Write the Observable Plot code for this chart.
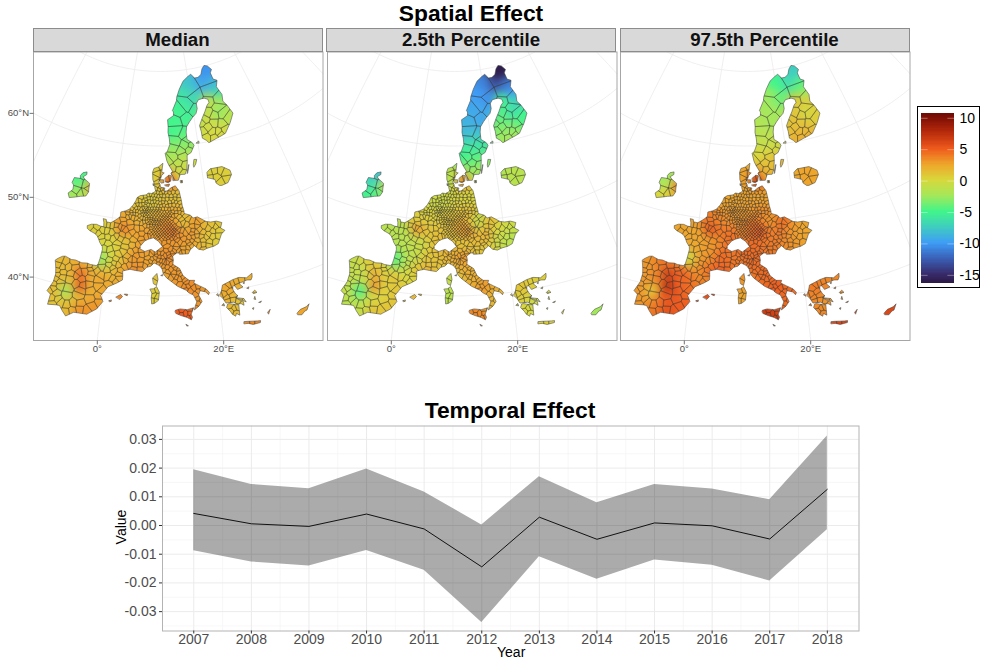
<!DOCTYPE html>
<html>
<head>
<meta charset="utf-8">
<script src="https://cdn.jsdelivr.net/npm/d3@7"></script>
<script src="https://cdn.jsdelivr.net/npm/@observablehq/plot@0.6"></script>
<style>
html,body{margin:0;padding:0;background:#fff;font-family:"Liberation Sans",Arial,sans-serif;}
#root{position:relative;width:982px;height:664px;overflow:hidden;}
.abs{position:absolute;}
.title{font-weight:bold;font-size:22.8px;line-height:26px;color:#000;text-align:center;white-space:nowrap;}
.strip{background:#d9d9d9;border:1px solid #8c8c8c;box-sizing:border-box;font-weight:bold;font-size:18.7px;color:#111;text-align:center;line-height:22px;height:24px;top:28px;width:290px;}
.axt{font-size:14px;color:#000;white-space:nowrap;}
svg{background:transparent !important;}
</style>
</head>
<body>
<div id="root"></div>
<script>
// ---------- temporal effect ----------
const years  = [2007,2008,2009,2010,2011,2012,2013,2014,2015,2016,2017,2018];
const tMid   = [0.0042,0.0006,-0.0003,0.0040,-0.0012,-0.0144,0.0029,-0.0048,0.0009,-0.0001,-0.0047,0.0126];
const tUpper = [0.0194,0.0143,0.0128,0.0197,0.0117,0.0002,0.0170,0.0079,0.0143,0.0127,0.0090,0.0312];
const tLower = [-0.0088,-0.0127,-0.0141,-0.0087,-0.0156,-0.0338,-0.0109,-0.0187,-0.0120,-0.0138,-0.0193,-0.0015];
const yTicks = [-0.03,-0.02,-0.01,0,0.01,0.02,0.03];
const yMinor = [-0.035,-0.025,-0.015,-0.005,0.005,0.015,0.025];
const xMinor = [2007.5,2008.5,2009.5,2010.5,2011.5,2012.5,2013.5,2014.5,2015.5,2016.5,2017.5];

// ---------- colour legend ----------
const colorStops  = [-16.4,-15,-12.5,-10,-7.5,-5,-2.5,0,2.5,5,7.5,10,10.6];
const colorValues = ["#2c1a45","#382a6a","#3a5fb5","#3e9cf6","#3fcdc0","#41f58a","#a3e85a","#d8d83c","#eeA52a","#ef5a1c","#b92c0c","#7c0e04","#700a03"];
const legendTicks = [10,5,0,-5,-10,-15];

// ---------- map graticule ----------
const meridians = [-40,-20,0,20,40,60];
const parallels = [30,40,50,60,70,80];
const latLabels = [[60,"60°N"],[50,"50°N"],[40,"40°N"]];
const lonLabels = [[0,"0°"],[20,"20°E"]];
const panelTitles = ["Median","2.5th Percentile","97.5th Percentile"];

// ---------- land outlines (lon, lat) ----------
const mainlandRing = [[-9.3,43.0],[-8.9,43.3],[-8.2,43.7],[-7.7,43.8],[-6.5,43.55],[-5.7,43.6],[-4.5,43.4],[-3.5,43.5],[-2.9,43.4],[-1.8,43.38],[-1.5,43.6],[-1.3,44.4],[-1.2,45.0],[-1.1,45.6],[-1.2,46.0],[-1.8,46.5],[-2.1,46.9],[-2.5,47.3],[-3.0,47.55],[-4.1,47.8],[-4.7,48.05],[-4.8,48.4],[-4.0,48.7],[-3.0,48.8],[-2.1,48.65],[-1.5,48.65],[-1.6,49.2],[-1.85,49.7],[-1.2,49.65],[-1.1,49.35],[-0.2,49.3],[0.2,49.5],[1.0,49.9],[1.6,50.3],[1.6,50.9],[2.5,51.1],[3.4,51.4],[3.6,51.6],[4.1,52.0],[4.6,52.6],[4.8,53.0],[5.5,53.3],[6.9,53.45],[7.2,53.7],[8.0,53.65],[8.6,53.85],[8.9,54.0],[8.7,54.4],[8.6,54.9],[8.2,55.5],[8.1,56.5],[8.4,57.0],[9.5,57.2],[10.6,57.7],[10.4,56.9],[10.3,56.5],[10.9,56.4],[10.3,56.1],[10.0,55.6],[9.6,55.2],[9.9,54.85],[10.0,54.5],[11.0,54.4],[10.8,54.0],[11.5,54.0],[12.4,54.4],[13.4,54.65],[14.2,53.95],[14.4,53.3],[14.6,52.6],[14.7,52.0],[15.0,51.2],[15.0,50.9],[16.3,50.6],[16.8,50.2],[17.7,50.3],[18.6,49.9],[19.4,49.55],[20.3,49.4],[21.5,49.4],[22.55,49.1],[22.1,48.4],[22.9,48.0],[22.1,47.6],[21.2,46.4],[20.3,46.15],[19.0,46.0],[18.2,45.8],[17.3,46.0],[16.6,46.5],[15.7,46.0],[15.3,45.5],[14.6,45.5],[13.6,45.5],[13.7,45.65],[13.1,45.7],[12.3,45.3],[12.4,44.8],[12.3,44.2],[13.5,43.6],[14.1,42.6],[15.1,41.95],[16.1,41.9],[15.9,41.55],[16.9,41.1],[18.0,40.6],[18.5,40.1],[18.3,39.8],[17.9,40.2],[16.9,40.45],[16.6,39.9],[17.1,39.0],[16.5,38.4],[15.7,37.95],[15.9,38.5],[16.2,39.0],[15.7,39.95],[14.9,40.3],[14.5,40.65],[14.1,40.8],[13.0,41.25],[12.2,41.75],[11.1,42.4],[10.5,42.95],[10.3,43.6],[9.8,44.05],[8.8,44.4],[8.2,43.95],[7.5,43.8],[6.7,43.2],[5.4,43.3],[4.4,43.4],[3.1,43.1],[3.2,42.45],[3.2,41.9],[2.2,41.4],[0.8,40.8],[-0.3,39.5],[0.2,38.75],[-0.7,37.65],[-1.9,36.95],[-2.2,36.75],[-4.4,36.7],[-5.6,36.0],[-6.3,36.6],[-6.9,37.2],[-7.4,37.2],[-8.9,37.0],[-8.8,38.4],[-9.5,38.75],[-8.8,40.1],[-8.7,41.2],[-8.9,41.9]];
const swissHole = [[6.1,46.2],[7.0,45.9],[8.2,46.2],[9.0,45.85],[10.4,46.6],[9.6,47.3],[8.6,47.75],[7.6,47.55],[6.9,47.3],[6.1,46.6]];
const nordicRing = [[12.9,55.4],[12.9,55.9],[12.5,56.3],[12.9,56.6],[12.0,57.5],[11.6,58.0],[11.2,59.0],[11.8,59.3],[12.5,60.2],[12.4,61.0],[12.1,61.8],[12.2,62.5],[12.1,63.5],[13.9,64.0],[14.0,64.5],[13.7,64.7],[15.2,66.0],[15.4,66.5],[16.5,67.5],[18.1,68.5],[20.1,69.05],[21.3,69.3],[22.4,68.7],[23.7,68.7],[25.0,69.0],[25.9,69.7],[27.0,70.08],[28.2,69.9],[29.3,69.3],[28.5,68.9],[28.8,68.0],[30.0,67.7],[29.1,66.9],[30.1,65.7],[29.7,64.8],[30.5,64.2],[31.5,62.9],[29.9,61.8],[27.8,60.6],[26.5,60.4],[25.0,60.2],[23.5,59.95],[22.9,59.85],[22.4,60.2],[21.4,60.6],[21.4,61.5],[21.2,62.3],[22.3,63.2],[23.5,64.0],[24.6,64.8],[25.4,65.1],[25.3,65.55],[24.2,65.8],[23.5,65.8],[22.3,65.75],[21.4,65.3],[21.4,64.6],[20.8,64.0],[19.5,63.5],[18.5,63.0],[17.5,62.4],[17.2,61.7],[17.2,60.7],[18.5,60.2],[18.9,59.8],[17.9,58.9],[16.8,58.6],[16.7,57.8],[16.4,56.7],[15.9,56.1],[14.7,56.1],[14.2,55.4]];
const irelandRing = [[-6.2,53.9],[-6.1,53.2],[-6.0,52.8],[-6.4,52.2],[-7.5,52.0],[-8.5,51.75],[-9.8,51.45],[-10.3,52.0],[-9.5,52.6],[-9.6,53.2],[-10.1,53.5],[-9.9,54.2],[-8.5,54.3],[-8.7,54.65],[-8.3,55.1],[-7.4,55.35],[-7.3,55.0],[-8.0,54.6],[-7.4,54.3],[-7.0,54.2]];
const lithuaniaRing = [[21.05,55.3],[21.1,56.0],[22.0,56.4],[24.9,56.4],[26.6,55.7],[26.7,55.1],[25.7,54.3],[25.5,54.15],[24.0,53.95],[23.5,54.0],[22.8,54.4],[22.7,54.9],[21.4,55.2]];
const greeceRing = [[20.2,39.6],[20.7,39.05],[21.1,38.4],[22.4,38.35],[23.0,38.0],[23.6,38.0],[24.05,37.7],[24.05,38.2],[23.2,38.65],[22.9,38.9],[23.3,39.1],[22.95,39.4],[22.6,40.0],[22.65,40.5],[23.0,40.5],[23.4,39.95],[23.9,40.05],[24.4,40.15],[23.8,40.7],[24.6,40.85],[25.3,40.95],[26.0,40.85],[26.3,41.2],[26.4,41.7],[25.3,41.25],[24.0,41.5],[22.8,41.35],[21.9,41.1],[20.9,40.85],[20.6,40.1]];
const peloponneseRing = [[21.7,38.25],[22.9,37.95],[23.2,37.9],[23.15,37.3],[23.1,36.5],[22.6,36.8],[22.4,36.45],[21.9,36.8],[21.65,37.2],[21.1,37.8],[21.35,38.2]];
const islandRings = [
 [[23.55,35.3],[23.6,35.55],[24.2,35.5],[25.0,35.4],[25.8,35.3],[26.3,35.25],[26.2,35.0],[25.0,34.95],[24.3,35.2]],
 [[32.3,34.95],[32.4,35.05],[33.0,35.35],[34.0,35.45],[34.6,35.7],[34.0,35.0],[33.6,34.95],[33.0,34.6],[32.4,34.75]],
 [[12.45,37.9],[12.5,38.05],[13.3,38.2],[14.5,38.05],[15.6,38.25],[15.1,37.4],[15.3,37.0],[15.1,36.65],[14.4,37.0],[13.4,37.3],[12.6,37.6]],
 [[8.2,40.9],[8.8,40.95],[9.3,41.25],[9.8,40.5],[9.65,39.4],[9.0,39.0],[8.5,38.9],[8.4,39.7],[8.5,40.3]],
 [[8.6,42.4],[9.35,43.0],[9.55,42.2],[9.3,41.4],[8.8,41.6]],
 [[2.35,39.55],[3.1,39.95],[3.45,39.7],[3.05,39.3]],
 [[3.8,40.05],[4.3,40.05],[4.25,39.85],[3.85,39.95]],
 [[1.2,38.95],[1.6,39.1],[1.6,38.9],[1.35,38.85]],
 [[14.2,36.08],[14.55,35.88],[14.35,35.85]],
 [[18.1,57.25],[18.4,57.95],[19.1,57.9],[18.7,57.3],[18.2,56.95]],
 [[16.4,56.2],[16.9,57.3],[17.05,57.35],[16.55,56.3]],
 [[11.1,55.7],[12.0,56.1],[12.6,56.0],[12.4,55.3],[11.8,55.1],[11.2,55.2]],
 [[9.8,55.5],[10.7,55.5],[10.8,55.1],[10.2,55.05]],
 [[11.0,54.8],[12.1,54.9],[11.9,54.6],[11.3,54.65]],
 [[14.7,55.3],[15.15,55.3],[15.1,55.0],[14.75,55.0]],
 [[19.6,60.1],[20.3,60.3],[20.3,60.05]],
 [[19.7,39.7],[19.9,39.8],[20.05,39.45]],
 [[20.4,38.2],[20.7,38.4],[20.8,38.1]],
 [[22.9,38.9],[24.2,38.6],[24.5,38.1],[23.7,38.5]],
 [[25.85,39.2],[26.3,39.4],[26.6,39.05],[26.0,39.0]],
 [[25.9,38.3],[26.1,38.6],[26.15,38.2]],
 [[26.6,37.7],[27.05,37.8],[26.9,37.65]],
 [[27.7,36.15],[28.2,36.45],[27.8,35.9]],
 [[25.35,37.1],[25.6,37.15],[25.5,36.95]],
 [[25.05,39.9],[25.4,40.0],[25.3,39.8]],
 [[24.55,40.7],[24.8,40.8],[24.7,40.55]],
 [[10.1,42.75],[10.4,42.85],[10.4,42.72]],
 [[8.3,54.95],[8.45,54.95],[8.4,54.7]]
];

// ---------- region seed points (lon, lat) ----------
const germanySites = [[9.4,54.7],[9.9,54.5],[9.0,54.3],[9.6,54.2],[10.3,54.3],[10.9,54.2],[12.2,54.2],[13.3,54.3],[8.7,53.8],[9.4,53.8],[10.0,53.7],[10.6,53.9],[11.3,53.8],[12.0,53.8],[12.9,53.8],[13.7,53.7],[7.3,53.4],[7.8,53.5],[8.3,53.4],[8.9,53.4],[9.5,53.3],[10.1,53.4],[10.7,53.3],[11.5,53.4],[12.3,53.3],[13.3,53.4],[14.0,53.3],[7.4,53.0],[8.0,53.0],[8.6,53.0],[9.2,52.9],[9.9,52.9],[10.6,52.9],[11.4,52.9],[12.3,52.9],[13.2,52.9],[14.0,52.8],[6.9,52.5],[7.5,52.6],[8.1,52.5],[8.7,52.6],[9.3,52.5],[9.9,52.4],[10.5,52.5],[11.2,52.4],[12.0,52.5],[12.8,52.6],[13.4,52.5],[14.2,52.4],[6.8,52.0],[7.3,52.1],[7.8,52.0],[8.4,52.1],[8.9,52.1],[9.5,52.0],[10.1,52.0],[10.7,52.1],[11.4,52.0],[12.1,52.1],[12.9,52.1],[13.7,52.0],[14.4,51.9],[6.3,51.6],[6.8,51.7],[7.2,51.5],[7.6,51.6],[8.1,51.6],[8.7,51.6],[9.3,51.6],[9.9,51.6],[10.5,51.6],[11.2,51.6],[11.9,51.5],[12.5,51.6],[13.2,51.5],[14.0,51.5],[14.7,51.4],[6.1,51.2],[6.5,51.2],[6.9,51.2],[7.3,51.2],[7.8,51.2],[8.4,51.2],[9.0,51.2],[9.6,51.2],[10.2,51.2],[10.8,51.1],[11.4,51.2],[12.0,51.1],[12.6,51.2],[13.3,51.1],[14.1,51.1],[14.7,51.0],[6.2,50.8],[6.7,50.8],[7.2,50.8],[7.8,50.8],[8.4,50.8],[9.0,50.8],[9.6,50.7],[10.2,50.7],[10.8,50.7],[11.4,50.7],[12.0,50.7],[12.6,50.7],[13.3,50.8],[6.6,50.3],[7.1,50.3],[7.6,50.3],[8.1,50.3],[8.6,50.2],[9.1,50.2],[9.7,50.2],[10.3,50.3],[10.9,50.3],[11.5,50.3],[12.2,50.3],[6.6,49.8],[7.2,49.9],[7.8,49.8],[8.4,49.9],[8.9,49.9],[9.4,49.8],[9.9,49.8],[10.4,49.9],[11.0,49.8],[11.6,49.9],[12.2,49.8],[6.9,49.4],[7.5,49.4],[8.1,49.4],[8.6,49.4],[9.2,49.4],[9.8,49.3],[10.4,49.4],[11.0,49.4],[11.6,49.3],[12.2,49.4],[12.8,49.3],[8.2,49.0],[8.7,48.9],[9.2,48.9],[9.8,48.9],[10.4,48.9],[11.0,48.9],[11.6,48.9],[12.2,48.9],[12.8,48.8],[13.4,48.9],[7.9,48.5],[8.5,48.5],[9.1,48.5],[9.7,48.5],[10.3,48.5],[10.9,48.4],[11.5,48.5],[12.1,48.5],[12.7,48.5],[13.3,48.5],[7.8,48.0],[8.4,48.0],[9.0,48.0],[9.6,48.1],[10.2,48.0],[10.8,48.1],[11.5,48.1],[12.2,48.0],[12.8,48.1],[9.5,47.7],[10.2,47.6],[10.9,47.6],[11.5,47.7],[12.2,47.7],[13.0,47.7]];
const germanyExtra = [[6.55,51.45],[7.0,51.45],[7.45,51.4],[7.95,51.4],[8.55,51.4],[9.15,51.4],[9.75,51.4],[6.4,51.0],[6.85,51.0],[7.5,51.0],[8.1,51.0],[8.7,51.0],[9.3,51.0],[9.9,50.95],[10.5,50.9],[11.1,50.9],[11.7,50.95],[12.3,50.95],[7.0,50.55],[7.5,50.55],[8.1,50.55],[8.7,50.5],[9.3,50.45],[10.0,50.5],[10.6,50.5],[11.2,50.5],[11.9,50.5],[7.5,50.05],[8.1,50.05],[8.65,50.05],[9.15,50.0],[9.7,50.0],[10.2,50.05],[10.7,50.1],[11.3,50.1],[11.9,50.1],[7.5,49.65],[8.1,49.65],[8.65,49.65],[9.15,49.6],[9.7,49.6],[10.15,49.65],[10.7,49.6],[11.3,49.6],[11.9,49.6],[12.5,49.6],[8.45,49.15],[8.95,49.15],[9.5,49.15],[10.1,49.15],[10.7,49.15],[11.3,49.15],[11.9,49.15],[12.5,49.1],[13.1,49.1],[8.2,48.75],[8.95,48.7],[9.45,48.7],[10.05,48.7],[10.65,48.7],[11.25,48.7],[11.85,48.7],[12.45,48.7],[13.05,48.7],[13.6,48.7],[8.15,48.25],[8.75,48.25],[9.35,48.25],[9.95,48.25],[10.55,48.25],[11.2,48.25],[11.8,48.25],[12.4,48.25],[13.0,48.25],[9.3,47.85],[9.9,47.85],[10.5,47.8],[11.15,47.85],[11.85,47.85],[12.5,47.85]];
const beneluxSites = [[3.9,51.4],[4.4,51.9],[4.8,51.6],[5.3,51.6],[5.9,51.5],[5.0,52.1],[5.6,52.1],[6.3,52.2],[6.8,52.35],[4.8,52.5],[5.5,52.6],[6.3,52.6],[5.8,53.1],[6.6,53.2],[6.7,52.85],[3.2,51.2],[3.8,51.1],[4.4,51.2],[5.0,51.2],[5.5,51.1],[3.2,50.8],[3.9,50.8],[4.4,50.85],[5.0,50.8],[5.6,50.6],[6.1,50.4],[3.6,50.5],[4.3,50.4],[5.0,50.3],[5.5,50.0],[5.4,49.8],[6.1,49.7]];
const franceSites = [[3.2,50.4],[2.3,50.5],[2.3,49.95],[3.6,49.6],[2.5,49.4],[1.1,49.6],[1.0,49.1],[0.2,49.1],[-0.6,49.1],[-1.3,49.1],[-2.8,48.4],[-4.2,48.3],[-3.2,47.9],[-1.7,48.1],[-2.3,47.7],[-0.7,48.1],[0.2,48.0],[1.2,48.5],[1.9,48.9],[2.3,48.85],[2.9,48.6],[3.8,49.0],[4.3,48.3],[5.4,48.9],[6.1,48.95],[6.2,48.2],[7.4,48.7],[7.3,47.9],[6.2,47.6],[5.2,47.9],[3.6,47.9],[4.7,47.4],[6.4,47.1],[5.7,46.7],[4.6,46.6],[3.2,47.1],[2.1,47.4],[2.4,47.9],[1.3,47.6],[0.7,47.3],[-0.4,47.4],[-1.6,47.3],[-1.3,46.7],[-0.3,46.5],[-0.7,45.8],[0.2,45.8],[1.5,46.2],[1.6,46.7],[3.1,46.3],[2.9,45.7],[2.0,45.3],[0.7,45.1],[-0.6,44.8],[-0.9,44.0],[0.5,44.4],[1.6,44.6],[2.7,44.3],[3.5,44.5],[3.8,45.1],[4.4,45.7],[5.2,46.0],[5.5,45.3],[6.4,45.5],[6.3,46.0],[5.0,44.7],[4.4,44.7],[6.2,44.7],[6.3,44.1],[7.2,44.0],[6.3,43.5],[5.1,43.5],[5.2,44.0],[4.2,44.0],[3.4,43.7],[2.7,43.1],[2.2,43.9],[1.4,44.0],[1.2,43.4],[1.6,43.0],[0.6,43.7],[0.2,43.1],[-0.7,43.3],[2.5,42.6]];
const iberiaSites = [[-8.4,43.2],[-7.5,43.1],[-7.9,42.3],[-8.5,42.4],[-5.9,43.3],[-4.0,43.2],[-2.8,43.2],[-2.2,43.1],[-2.7,42.8],[-1.6,42.7],[-2.5,42.3],[-0.7,42.2],[-1.1,41.5],[-1.0,40.7],[0.5,42.2],[1.4,41.9],[2.6,42.1],[2.0,41.6],[1.0,41.1],[-0.2,40.2],[-0.6,39.4],[-0.5,38.6],[-1.5,38.0],[-2.3,37.3],[-3.5,37.3],[-3.6,38.0],[-4.7,37.9],[-4.7,36.9],[-5.7,36.6],[-5.8,37.5],[-6.8,37.6],[-6.1,38.7],[-6.1,39.7],[-4.1,39.0],[-2.0,38.8],[-2.2,40.0],[-2.6,40.7],[-3.7,40.5],[-3.9,39.8],[-4.7,40.6],[-4.1,41.2],[-2.6,41.6],[-3.7,42.3],[-4.7,42.0],[-5.0,41.6],[-6.0,41.0],[-5.6,42.6],[-6.7,42.5],[-6.0,41.7],[-8.5,41.7],[-7.6,41.6],[-8.3,41.2],[-7.5,41.0],[-8.5,40.6],[-7.7,40.3],[-8.7,39.9],[-7.5,39.8],[-8.6,39.2],[-9.0,38.9],[-7.9,38.7],[-8.4,38.0],[-7.5,38.0],[-8.1,37.2],[3.0,39.6]];
const italySites = [[7.7,45.1],[7.4,45.6],[8.3,45.5],[8.6,45.7],[8.4,44.9],[7.5,44.4],[8.2,44.6],[8.0,44.0],[8.8,44.5],[9.7,44.2],[9.1,45.7],[9.2,45.4],[9.7,45.7],[10.3,45.6],[9.0,45.1],[9.8,45.2],[10.4,45.2],[9.9,46.2],[11.3,46.6],[11.2,46.0],[10.8,45.4],[11.5,45.6],[11.9,46.2],[12.3,45.7],[12.3,45.5],[11.7,45.3],[11.9,45.1],[13.0,46.3],[13.4,45.9],[12.7,46.0],[9.7,44.85],[10.1,44.7],[10.6,44.6],[10.9,44.5],[11.3,44.5],[11.7,44.8],[12.0,44.3],[12.5,44.0],[10.0,44.1],[10.5,43.9],[10.6,43.5],[11.2,43.8],[11.9,43.5],[11.3,43.2],[11.1,42.8],[12.5,43.1],[12.4,42.6],[12.8,43.7],[13.3,43.5],[13.4,43.1],[13.7,42.9],[12.0,42.4],[12.8,42.4],[12.6,41.9],[13.4,41.5],[13.4,42.2],[14.1,42.4],[14.4,42.1],[14.7,41.7],[15.4,41.5],[14.3,41.1],[14.8,41.2],[14.4,40.8],[15.2,40.5],[15.9,40.9],[16.6,41.0],[17.3,40.6],[18.1,40.2],[16.6,40.4],[16.1,40.0],[16.4,39.4],[17.0,39.2],[16.4,38.8],[16.0,38.2],[12.8,37.8],[13.5,38.0],[13.5,37.4],[14.2,37.5],[14.9,38.1],[14.9,37.5],[14.7,37.0],[15.1,37.1],[8.7,40.6],[9.4,40.8],[8.9,40.1],[9.4,39.9],[8.7,39.3],[9.2,39.3],[8.9,41.9],[9.3,42.4]];
const centralSites = [[9.8,47.3],[10.8,47.2],[11.6,47.3],[12.4,47.1],[13.3,47.4],[13.8,47.1],[14.5,46.8],[13.1,46.8],[15.5,47.1],[16.1,47.2],[15.7,46.8],[14.6,47.5],[15.8,47.6],[16.5,47.7],[16.4,48.2],[14.1,48.1],[13.4,48.0],[14.9,48.3],[15.7,48.6],[14.3,48.5],[16.5,48.5],[14.4,50.1],[14.7,49.7],[13.7,49.5],[13.1,49.9],[13.9,50.5],[15.2,50.6],[15.7,50.1],[15.3,49.5],[16.5,49.8],[16.6,49.1],[17.6,49.5],[18.2,49.8],[17.4,49.1],[17.2,48.3],[17.9,48.6],[18.5,48.2],[18.8,49.0],[19.7,48.6],[20.5,49.0],[21.2,48.7],[21.9,49.0],[17.2,47.8],[18.2,47.6],[17.2,47.2],[18.4,47.2],[19.05,47.5],[19.6,47.8],[20.5,48.2],[21.6,48.1],[20.3,47.5],[21.5,47.5],[19.5,46.8],[20.8,46.6],[16.8,46.8],[17.5,46.5],[18.3,46.5],[18.3,46.0],[19.3,46.4],[16.0,46.5],[15.3,46.3],[14.5,46.3],[14.4,45.8],[15.1,45.8],[13.8,45.7]];
const nordicSites = [[20.0,67.3],[21.5,66.2],[18.5,65.2],[20.6,64.5],[16.0,64.5],[14.5,63.2],[17.5,63.5],[14.5,62.0],[16.5,61.5],[17.5,60.7],[14.0,60.5],[16.5,60.0],[18.2,59.8],[13.5,59.7],[15.2,59.2],[17.7,59.3],[15.6,58.5],[13.2,58.5],[12.0,58.0],[14.4,57.6],[16.0,57.2],[13.0,57.0],[14.5,56.8],[15.5,56.3],[13.4,56.0],[18.6,57.5],[26,68.5],[26.5,66.5],[28.5,65.2],[25.5,65.2],[27.5,64.2],[24.5,63.8],[26.0,63.3],[28.5,63.2],[23,63.0],[22.0,62.7],[25.5,62.3],[27.5,62.0],[29.7,62.5],[23.5,61.9],[22.0,61.5],[24.5,61.2],[26.0,61.0],[28.0,61.0],[22.5,60.6],[24.7,60.4],[26.5,60.6],[20,60.2],[9.0,57.0],[10.0,57.3],[9.5,56.3],[10.4,56.3],[8.9,55.6],[9.3,55.2],[10.3,55.3],[11.6,55.6],[12.4,55.7],[11.7,54.8]];
const outerSites = [[-8.3,54.9],[-8.7,53.7],[-6.8,53.7],[-6.2,53.3],[-6.7,52.6],[-8.8,52.6],[-9.2,51.9],[-7.6,52.3],[21.6,55.9],[21.6,55.3],[23.0,56.0],[23.2,55.2],[24.3,55.9],[24.0,54.5],[25.3,55.5],[25.2,54.7],[20.4,39.5],[21.0,39.6],[21.4,40.4],[22.0,39.8],[21.4,39.1],[22.3,39.3],[22.0,40.8],[22.7,40.9],[23.3,41.0],[23.5,40.4],[24.4,41.1],[25.5,41.1],[21.5,38.7],[22.3,38.7],[23.3,38.4],[23.8,38.0],[21.7,38.0],[22.4,37.5],[22.9,37.6],[21.8,37.2],[22.5,36.9],[24.0,35.3],[24.9,35.2],[25.6,35.1],[33.2,35.0]];

// ---------- field: seed points and values ----------
const fieldSites = [[25.5,69],[24,68],[27.5,67],[20.5,68],[17.5,66.5],[20.5,65.8],[15.5,65],[19,64.3],[14.5,63.3],[17,63],[13.5,61.7],[16.5,61.5],[14,60.3],[17,60],[13,59],[15.5,58.2],[14,57],[16,56.8],[13.5,56],[28.5,66],[26,65.3],[29,64.8],[27,63.5],[24.5,63.3],[29.5,62.5],[23,62],[27,61.5],[24,60.5],[26.5,60.7],[24,55.5],[18.5,57.5],[-8.3,54.8],[-8.8,53.7],[-7.5,53.2],[-9,52.2],[-7,52.5],[-6.3,53.4],[9,56],[12.5,55.7],[8,52.6],[10,53],[13,53],[11,51.5],[13,51],[9,50.2],[11,49.3],[12.5,48.5],[8.5,48.5],[6.5,51],[5.5,52],[4.5,50.5],[2.5,49.7],[2.4,48.8],[0,48],[-3,48],[5,48],[7,48],[3,47],[0,46],[-1,44.5],[1,44],[2.5,45],[5,45],[6,44],[3,43.5],[5.3,43.5],[1.5,42],[-1,41.5],[0,40],[-4,40.3],[-4.5,42],[-6,43],[-8,42.5],[-8,41],[-6.2,39.2],[-8.5,38.8],[-7.5,38],[-5.5,37.5],[-3.5,37.5],[-1.5,38],[-3,39],[-2.3,40.8],[3,39.5],[9,45.5],[11.5,45],[8,45],[11,44],[12.5,43],[13.5,42],[15,41],[17,40.5],[16.3,39],[14,37.5],[9,40],[9.1,42.2],[14,47.5],[16,47.5],[11.5,47],[15,50],[17,49.5],[19,48.7],[21.5,48.8],[19,47],[17,46.7],[21.5,47.5],[14.8,46],[22,40],[21,39],[24.5,41],[22,37.5],[23.5,38.5],[25,35.2],[33.2,35],[-5.6,41],[-2.7,42.5],[-2.6,39.6],[-4.6,38.9],[-6.5,42],[-3.3,43.2]];
const medianValues = [-10.3,-9.5,-8.5,-8,-6.3,-6.8,-5.2,-5.5,-5,-5.3,-5,-4.5,-3.5,-3,-2.5,-1.5,-1,-0.5,0.5,-6.5,-1,-2.5,-3,-0.5,-1.5,-0.5,-0.5,0,0,0.5,-0.5,-5,-4.5,-3.5,-2.5,-1.5,2,0.5,5,0.5,1,1,2,2.5,2,3.5,4,2.5,1.5,1,2,2.5,4,0.5,0.5,2.5,3,1,0,-2.8,0.5,1,3,3,2.5,3.5,2,2.5,2.5,5.5,5,2,1.5,1.5,-2.5,1.5,1,1.5,3.2,3,2,2,3.5,3,3.5,2.5,3,3,3,3.5,3,3,5,0.5,1,3,3,3,1,3,1.5,1,1,2,0.5,2.5,2.5,2,2,1.5,1,3.5,2.5,1.5,2,2,1.5,1.5,2];
const lowerValues  = [-16.2,-13.5,-11.5,-11,-10,-10.5,-9.5,-9.5,-9,-9.5,-8.5,-8,-6.5,-6,-5.2,-4.5,-3.5,-2.5,-1.5,-10,-5,-7,-6.5,-4.5,-5,-3.5,-3.5,-2.5,-2.5,-1.5,-3,-8,-7,-6,-5.2,-4,-0.5,-1.5,3.5,-0.5,0,0,1,1.5,1,2.5,3,1,0.5,-0.5,0.5,0.5,3,-1.5,-1.5,1,1.5,-0.8,-1.5,-4.5,-1.5,-1,1,1,1,2,0,1,1,3.5,2.5,0.5,-1,-1,-5,-1,-1.5,-1,1,1,0,0.5,1.5,2,3,1.5,2,2,2,3,2,1.5,3.5,-1.5,-1,1.5,2,1,-1,1.5,0,-0.5,-1,0.5,-1.5,1,1,0.5,0.5,0,-0.5,0.5,-2.5,-0.5,0.3,0.3,-0.5,-1,0.5];
const upperValues  = [-7.5,-6.5,-4.5,-5,-2.8,-4,-2.5,-2.5,-2,-2.5,-1.5,-1.5,-1,-0.5,0,1,1.5,1.5,2.5,-2.5,1,0.5,-0.5,1.2,0.5,1.3,1.3,2,2,2.5,1.5,-2.5,-2.5,-1,0,1,4,2.5,6.5,2.5,2.5,2.5,3,3.5,3,4.5,5,3.5,3,2.5,3.5,4,5.5,2.5,2.5,4,4.5,3,2.5,-0.5,3,3,4.5,4.5,4.5,5,3.5,4.5,4.5,8,7,4,3,3,0.8,3,3,4,5.5,5,5.5,5,5.5,4.5,4.5,4,4.5,4.5,4.5,5,4.5,4.5,6.5,2.5,3,4,4,4.5,3,4.5,3,2.5,3,3.5,2.5,4,4,3.5,3.5,3.5,3,6,6,4,5,5.5,5,3.5,4];

// ---------- layout constants ----------
const panelDX = 293.5, frameL = 33, frameR = 322.5, frameT = 51.5, frameB = 340;
const root = document.getElementById("root");

function addDiv(cls, text, style){
  const d = document.createElement("div");
  d.className = "abs " + cls;
  d.textContent = text;
  Object.assign(d.style, style);
  root.appendChild(d);
  return d;
}

const baseProj = () => d3.geoAzimuthalEqualArea().rotate([-10,-52]).scale(430).translate([160,205.5]).precision(0.2);
const plain = baseProj();

function orient(ring, hole){
  const closed = ring.concat([ring[0]]);
  const big = d3.geoArea({type:"Polygon",coordinates:[closed]}) > 2*Math.PI;
  return (hole ? !big : big) ? closed.slice().reverse() : closed;
}
const landPolys = [
  [orient(mainlandRing), orient(swissHole,true)],
  [orient(nordicRing)],[orient(irelandRing)],[orient(lithuaniaRing)],[orient(greeceRing)],[orient(peloponneseRing)],
  ...islandRings.map(r=>[orient(r)])
];
const land = {type:"MultiPolygon",coordinates:landPolys};

function voronoiFeatures(sites){
  const pts = sites.map(s=>plain(s));
  const vor = d3.Delaunay.from(pts).voronoi([-300,-300,700,700]);
  return sites.map((s,i)=>{
    const cell = vor.cellPolygon(i);
    if(!cell) return null;
    const ring = cell.map(p=>plain.invert(p));
    const poly = {type:"Polygon",coordinates:[ring]};
    if(d3.geoArea(poly) > 2*Math.PI) ring.reverse();
    return {type:"Feature",geometry:poly,properties:{i}};
  }).filter(Boolean);
}

const regionSites = [...germanySites,...germanyExtra,...beneluxSites,...franceSites,...iberiaSites,...italySites,...centralSites,...nordicSites,...outerSites];
const regionCells = voronoiFeatures(regionSites);
const fieldCells  = voronoiFeatures(fieldSites);

const colorOpt = {type:"linear",domain:colorStops,range:colorValues,clamp:true};

// find where a parallel / meridian meets the panel edge
function edgeLon(lat){
  let a=-60,b=10;
  for(let k=0;k<40;k++){const m=(a+b)/2; if(plain([m,lat])[0] < frameL+0.5) a=m; else b=m;}
  return (a+b)/2;
}
function edgeLat(lon){
  let a=25,b=50;
  for(let k=0;k<40;k++){const m=(a+b)/2; if(plain([lon,m])[1] > frameB-0.5) a=m; else b=m;}
  return (a+b)/2;
}
const tickLine = {draw(ctx,l){ctx.moveTo(0,0);ctx.lineTo(0,-l);}};

function mapPanel(values, i){
  const proj = baseProj().clipExtent([[frameL,frameT],[frameR,frameB]]);
  const gratLines = [
    ...meridians.map(lon=>({type:"LineString",coordinates:d3.range(25,86,1).map(lat=>[lon,lat])})),
    ...parallels.map(lat=>({type:"LineString",coordinates:d3.range(-60,81,1).map(lon=>[lon,lat])}))
  ];
  const latTicks = i===0 ? latLabels.map(([lat,label])=>({lon:edgeLon(lat),lat,label})) : [];
  const lonTicks = lonLabels.map(([lon,label])=>({lon,lat:edgeLat(lon),label}));
  const W = 325, H = 356;
  const plot = Plot.plot({
    width:W,height:H,
    marginLeft:frameL,marginRight:W-frameR,marginTop:frameT,marginBottom:H-frameB,
    projection:proj,
    color:colorOpt,
    style:{background:"transparent",fontFamily:"Liberation Sans, Arial, sans-serif"},
    marks:[
      Plot.geo(gratLines,{stroke:"#ebebeb",strokeWidth:0.8,fill:"none"}),
      Plot.geo(fieldCells,{fill:d=>values[d.properties.i],stroke:null,clip:land}),
      Plot.geo(regionCells,{fill:"none",stroke:"#3a3a3a",strokeWidth:0.42,strokeOpacity:0.85,clip:land}),
      Plot.geo(land,{fill:"none",stroke:"#444",strokeWidth:0.55}),
      Plot.frame({stroke:"#a6a6a6",strokeWidth:1}),
      Plot.vector(latTicks,{x:"lon",y:"lat",length:3,rotate:-90,anchor:"start",shape:tickLine,stroke:"#333",strokeWidth:0.7,dx:-1}),
      Plot.text(latTicks,{x:"lon",y:"lat",text:"label",textAnchor:"end",dx:-5,fontSize:9.5,fill:"#4d4d4d"}),
      Plot.vector(lonTicks,{x:"lon",y:"lat",length:3,rotate:180,anchor:"start",shape:tickLine,stroke:"#333",strokeWidth:0.7,dy:1}),
      Plot.text(lonTicks,{x:"lon",y:"lat",text:"label",dy:9,fontSize:9.5,fill:"#4d4d4d"})
    ]
  });
  // second geo mark is the field: soften it before the land clip is applied
  const f = plot.querySelectorAll('g[aria-label="geo"]')[1];
  if(f) f.style.filter = "blur(4px)";
  plot.style.position = "absolute";
  plot.style.left = (i*panelDX)+"px";
  plot.style.top = "0px";
  root.appendChild(plot);
}

[medianValues,lowerValues,upperValues].forEach(mapPanel);
panelTitles.forEach((t,i)=>addDiv("strip",t,{left:(32.5+i*panelDX)+"px"}));

addDiv("title","Spatial Effect",{left:"0",width:"942px",top:"0px"});
addDiv("title","Temporal Effect",{left:"0",width:"1020px",top:"397px"});

// legend
(function(){
  const W=61,H=180;
  const steps = d3.range(-16.3,10.6,0.2);
  const lg = Plot.plot({
    width:W,height:H,margin:0,
    x:{domain:[0,1],range:[3,36],axis:null},
    y:{domain:[10.6,-16.3],range:[7,176],axis:null},
    color:colorOpt,
    style:{background:"#fff",fontFamily:"Liberation Sans, Arial, sans-serif"},
    marks:[
      Plot.rect(steps,{x1:0,x2:1,y1:d=>d,y2:d=>d+0.3,fill:d=>d,shapeRendering:"crispEdges"}),
      Plot.ruleY(legendTicks,{x1:0,x2:0.2,stroke:"#fff",strokeOpacity:0.5,strokeWidth:0.7}),
      Plot.ruleY(legendTicks,{x1:0.8,x2:1,stroke:"#fff",strokeOpacity:0.5,strokeWidth:0.7}),
      Plot.text(legendTicks,{x:1,y:d=>d,text:d=>String(d),dx:5,textAnchor:"start",fontSize:14,fill:"#000"})
    ]
  });
  const box = document.createElement("div");
  box.className="abs";
  Object.assign(box.style,{left:"917px",top:"106px",width:W+"px",height:H+"px",border:"1px solid #000",background:"#fff"});
  lg.style.display="block";
  box.appendChild(lg);
  root.appendChild(box);
})();

// temporal plot
(function(){
  const tData = years.map((y,i)=>({year:y,mid:tMid[i],lo:tLower[i],hi:tUpper[i]}));
  const H=240;
  const p = Plot.plot({
    width:982,height:H,
    marginLeft:162,marginRight:123.5,marginTop:5.5,marginBottom:H-210.5,
    x:{domain:[2006.457,2018.55]},
    y:{domain:[-0.03675,0.03467]},
    style:{background:"transparent",fontFamily:"Liberation Sans, Arial, sans-serif",fontSize:"14px"},
    marks:[
      Plot.gridX(xMinor,{stroke:"#f2f2f2",strokeOpacity:1,strokeWidth:0.6}),
      Plot.gridY(yMinor,{stroke:"#f2f2f2",strokeOpacity:1,strokeWidth:0.6}),
      Plot.gridX(years,{stroke:"#ebebeb",strokeOpacity:1,strokeWidth:1}),
      Plot.gridY(yTicks,{stroke:"#ebebeb",strokeOpacity:1,strokeWidth:1}),
      Plot.areaY(tData,{x:"year",y1:"lo",y2:"hi",fill:"#000",fillOpacity:0.33}),
      Plot.lineY(tData,{x:"year",y:"mid",stroke:"#000",strokeWidth:0.9}),
      Plot.frame({stroke:"#b3b3b3",strokeWidth:1}),
      Plot.axisX(years,{label:null,tickSize:3,tickPadding:0,tickFormat:d=>String(d),fill:"#4d4d4d",stroke:"#333",fontSize:14}),
      Plot.axisY(yTicks,{label:null,tickSize:3,tickPadding:3,tickFormat:d=>d.toFixed(2),fill:"#4d4d4d",stroke:"#333",fontSize:14})
    ]
  });
  p.style.position="absolute"; p.style.left="0"; p.style.top="420px";
  root.appendChild(p);
  addDiv("axt","Year",{left:"497px",top:"644px"});
  addDiv("axt","Value",{left:"104px",top:"519px",transform:"rotate(-90deg)"});
})();
</script>
</body>
</html>
